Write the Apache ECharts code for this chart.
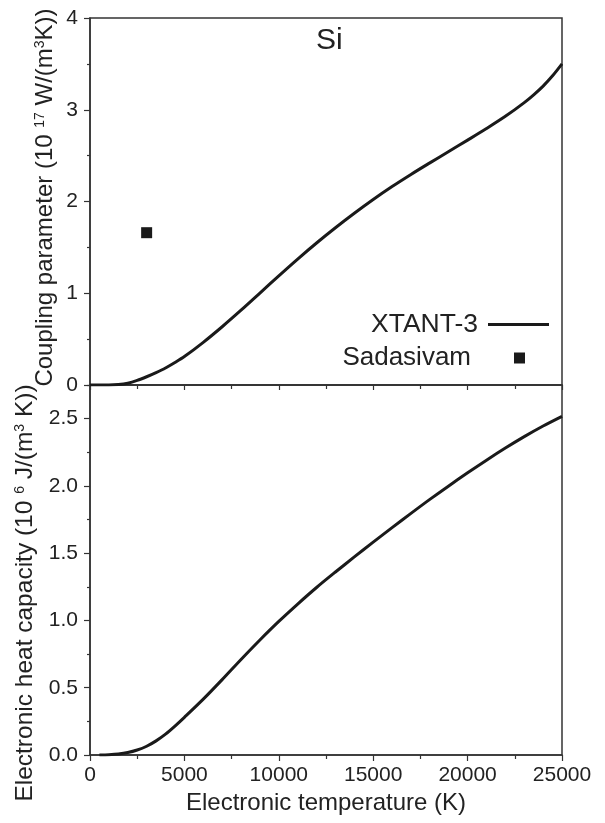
<!DOCTYPE html>
<html>
<head>
<meta charset="utf-8">
<script src="https://cdn.jsdelivr.net/npm/echarts@6/dist/echarts.min.js"></script>
<style>
  html, body { margin: 0; padding: 0; background: #fff; }
  #chart { width: 605px; height: 823px; }
</style>
</head>
<body>
<div id="chart"></div>
<script>
// Electron temperature grid (K) and electron-phonon coupling of Si (10^17 W/(m^3 K))
var tempCoupling = [0, 1000, 1500, 2000, 2500, 3000, 3500, 4000, 4500, 5000, 6000, 7000, 8000, 9000,
  10000, 11000, 12000, 13000, 14000, 15000, 16000, 17000, 18000, 19000, 20000, 21000, 22000,
  23000, 23500, 24000, 24500, 25000];
var coupling = [0, 0.0, 0.005, 0.02, 0.05, 0.09, 0.135, 0.185, 0.245, 0.31, 0.465, 0.635, 0.815, 1.002,
  1.19, 1.373, 1.548, 1.714, 1.872, 2.022, 2.163, 2.295, 2.421, 2.545, 2.669, 2.795, 2.928,
  3.078, 3.163, 3.258, 3.37, 3.50];

// Electronic heat capacity (10^6 J/(m^3 K))
var tempHeat = [500, 1000, 1500, 2000, 2500, 3000, 3500, 4000, 4500, 5000, 6000, 7000, 8000, 9000,
  10000, 11000, 12000, 13000, 14000, 15000, 16000, 17000, 18000, 19000, 20000, 21000, 22000,
  23000, 24000, 25000];
var heatCapacity = [0, 0.002, 0.007, 0.018, 0.037, 0.065, 0.105, 0.155, 0.215, 0.28, 0.415, 0.56, 0.71, 0.855,
  0.993, 1.122, 1.245, 1.36, 1.472, 1.582, 1.69, 1.796, 1.90, 2.00, 2.097, 2.191, 2.281,
  2.366, 2.445, 2.517];

// Reference point (Sadasivam)
var refTemp = [3000];
var refCoupling = [1.66];

// Tick values
var heatMajorTicks = [0, 0.5, 1.0, 1.5, 2.0, 2.5];
var heatMinorTicks = [0.25, 0.75, 1.25, 1.75, 2.25, 2.75];

var FONT = 'Liberation Sans, Arial, Helvetica, sans-serif';
var INK = '#222';
var AXIS = '#333';
var CURVE = '#1a1a1a';

function pairs(xs, ys) {
  return xs.map(function (x, i) { return [x, ys[i]]; });
}

var axisLine = { show: true, lineStyle: { color: AXIS, width: 1.5 } };
var supRich = { sup: { fontSize: 14, fontFamily: FONT, color: INK, verticalAlign: 'top' } };

var chart = echarts.init(document.getElementById('chart'), null, { renderer: 'canvas' });

chart.setOption({
  backgroundColor: '#fff',
  animation: false,
  textStyle: { fontFamily: FONT, color: INK },
  title: {
    text: 'Si', left: 316, top: 26, padding: 0,
    textStyle: { fontSize: 30, fontWeight: 'normal', color: INK, fontFamily: FONT }
  },
  legend: [
    {
      data: ['XTANT-3'], orient: 'vertical', align: 'right', right: 56, top: 311, padding: 0,
      icon: 'rect', itemWidth: 61, itemHeight: 3, selectedMode: false,
      textStyle: { fontSize: 26.5, color: INK, fontFamily: FONT, padding: [0, 5, 0, 0] }
    },
    {
      data: ['Sadasivam'], orient: 'vertical', align: 'right', right: 80, top: 345, padding: 0,
      icon: 'rect', itemWidth: 11, itemHeight: 11, selectedMode: false,
      textStyle: { fontSize: 26, color: INK, fontFamily: FONT, padding: [0, 38, 0, 0] }
    }
  ],
  grid: [
    { left: 90, right: 43, top: 18, height: 367, show: true, borderColor: AXIS, borderWidth: 1.5,
      backgroundColor: 'transparent', containLabel: false, outerBoundsMode: 'none' },
    { left: 90, right: 43, top: 385, height: 370, show: true, borderColor: AXIS, borderWidth: 1.5,
      backgroundColor: 'transparent', containLabel: false, outerBoundsMode: 'none' }
  ],
  xAxis: [
    {
      gridIndex: 0, type: 'value', min: 0, max: 25000, interval: 5000, position: 'bottom',
      axisLine: axisLine,
      axisTick: { show: true, inside: false, length: 5, lineStyle: { color: AXIS, width: 1.2 } },
      minorTick: { show: true, splitNumber: 2, length: 4, lineStyle: { color: AXIS, width: 1.2 } },
      axisLabel: { show: false }, splitLine: { show: false }
    },
    {
      gridIndex: 1, type: 'value', min: 0, max: 25000, interval: 5000, position: 'bottom',
      axisLine: axisLine,
      axisTick: { show: true, inside: false, length: 6, lineStyle: { color: AXIS, width: 1.2 } },
      minorTick: { show: true, splitNumber: 2, length: 4, lineStyle: { color: AXIS, width: 1.2 } },
      axisLabel: { show: true, fontSize: 21, margin: 10, color: INK, fontFamily: FONT,
        formatter: function (v) { return String(v); } },
      splitLine: { show: false },
      name: 'Electronic temperature (K)', nameLocation: 'middle', nameGap: 36, nameMoveOverlap: false,
      nameTextStyle: { fontSize: 24, color: INK, fontFamily: FONT }
    }
  ],
  yAxis: [
    {
      gridIndex: 0, type: 'value', min: 0, max: 4, interval: 1,
      axisLine: axisLine,
      axisTick: { show: true, inside: false, length: 6, lineStyle: { color: AXIS, width: 1.2 } },
      minorTick: { show: true, splitNumber: 2, length: 3, lineStyle: { color: AXIS, width: 1.2 } },
      axisLabel: { show: true, fontSize: 21, margin: 12, color: INK, fontFamily: FONT },
      splitLine: { show: false },
      name: 'Coupling parameter (10 {sup|17} W/(m{sup|3}K))',
      nameLocation: 'middle', nameRotate: 90, nameGap: 33, nameMoveOverlap: false,
      nameTextStyle: { fontSize: 24, color: INK, fontFamily: FONT, padding: [0, 0, 0, 8], rich: supRich }
    },
    {
      gridIndex: 1, type: 'value', min: 0, max: 2.75,
      axisLine: axisLine,
      axisTick: { show: true, inside: false, length: 6, customValues: heatMajorTicks,
        lineStyle: { color: AXIS, width: 1.2 } },
      axisLabel: { show: true, fontSize: 21, margin: 12, color: INK, fontFamily: FONT,
        customValues: heatMajorTicks,
        formatter: function (v) { return v.toFixed(1); } },
      splitLine: { show: false },
      name: 'Electronic heat capacity (10 {sup|6} J/(m{sup|3} K))',
      nameLocation: 'middle', nameRotate: 90, nameGap: 52, nameMoveOverlap: false,
      nameTextStyle: { fontSize: 24.5, color: INK, fontFamily: FONT, padding: [0, 46, 0, 0], rich: supRich }
    },
    {
      // minor ticks of the heat-capacity axis
      gridIndex: 1, type: 'value', min: 0, max: 2.75, position: 'left',
      axisLine: { show: false },
      axisTick: { show: true, inside: false, length: 3, customValues: heatMinorTicks,
        lineStyle: { color: AXIS, width: 1.2 } },
      axisLabel: { show: false }, splitLine: { show: false }
    }
  ],
  series: [
    {
      name: 'XTANT-3', type: 'line', xAxisIndex: 0, yAxisIndex: 0,
      data: pairs(tempCoupling, coupling), smooth: 0.3,
      showSymbol: false, symbol: 'none',
      lineStyle: { color: CURVE, width: 3, join: 'round' }, itemStyle: { color: CURVE }
    },
    {
      name: 'Sadasivam', type: 'scatter', xAxisIndex: 0, yAxisIndex: 0,
      data: pairs(refTemp, refCoupling), symbol: 'rect', symbolSize: 11,
      itemStyle: { color: CURVE, opacity: 1 }
    },
    {
      name: 'XTANT-3', type: 'line', xAxisIndex: 1, yAxisIndex: 1,
      data: pairs(tempHeat, heatCapacity), smooth: 0.3,
      showSymbol: false, symbol: 'none',
      lineStyle: { color: CURVE, width: 3, join: 'round' }, itemStyle: { color: CURVE }
    }
  ]
});
</script>
</body>
</html>
